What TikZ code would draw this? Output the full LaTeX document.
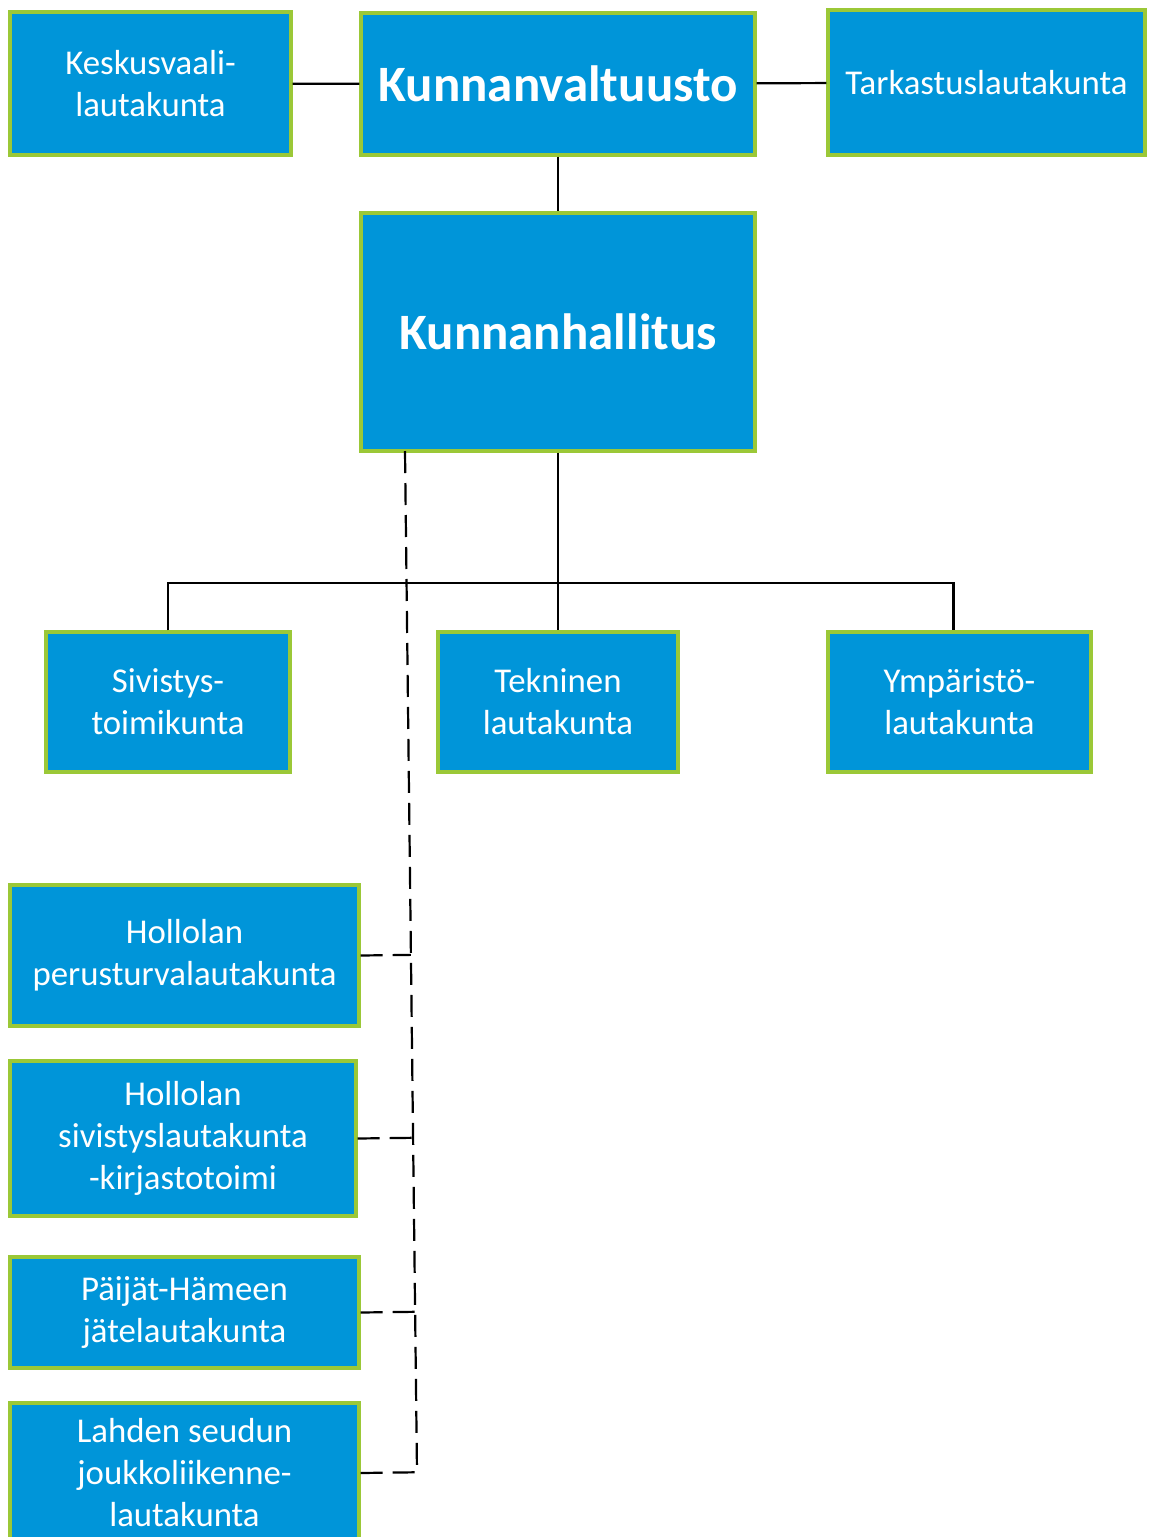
\documentclass[tikz,border=0pt]{standalone}
\usepackage{fontspec}
\setmainfont{Carlito}
\usepackage{xcolor}
\usetikzlibrary{calc}

\definecolor{boxblue}{RGB}{0,149,217}
\definecolor{boxgreen}{RGB}{155,200,55}

\begin{document}
\begin{tikzpicture}[
    x=0.5pt, y=-0.5pt,
    unit/.style={rectangle, draw=boxgreen, line width=1.6pt, fill=boxblue, text=white, align=center, inner sep=0pt, font=\fontsize{17.4}{21}\selectfont},
    council/.style={unit, font=\fontsize{25.5}{30}\selectfont\bfseries},
    boxsize/.style 2 args={minimum width=#1*0.5pt, minimum height=#2*0.5pt},
    link/.style={line width=1.1pt},
    dashlink/.style={line width=1.1pt, dash pattern=on 11pt off 5pt}
]
\useasboundingbox (0,0) rectangle (1152,1537);
\clip (0,0) rectangle (1152,1537);

% Top level: council and its committees
\node[council, boxsize={394}{142}] (kv) at (558,84) {Kunnanvaltuusto};
\node[unit, boxsize={281}{143}] (kvl) at (150.5,83.5) {Keskusvaali-\\lautakunta};
\node[unit, boxsize={317}{145}] (tlk) at (986.5,82.5) {Tarkastuslautakunta};

% Board
\node[council, boxsize={394}{238}] (kh) at (558,332) {Kunnanhallitus};

% Committees under the board
\node[unit, boxsize={244}{140}] (siv) at (168,702) {Sivistys-\\toimikunta};
\node[unit, boxsize={240}{140}] (tek) at (558,702) {Tekninen\\lautakunta};
\node[unit, boxsize={263}{140}] (ymp) at (959.5,702) {Ympäristö-\\lautakunta};

% Joint committees
\node[unit, boxsize={349}{141}] (hper) at (184.5,955.5) {Hollolan\\perusturvalautakunta};
\node[unit, boxsize={346}{155}] (hsiv) at (183,1138.5) {Hollolan\\sivistyslautakunta\\-kirjastotoimi};
\node[unit, boxsize={349}{111}] (pjl) at (184.5,1312.5) {Päijät-Hämeen\\jätelautakunta};
\node[unit, boxsize={349}{140}] (ljl) at (184.5,1473) {Lahden seudun\\joukkoliikenne-\\lautakunta};

% Solid links
\draw[link] (kvl) -- (kv);
\draw[link] (kv) -- (tlk);
\draw[link] (kv) -- (kh);
\draw[link] (kh) -- (tek);
\coordinate (bus) at (558,583);
\draw[link] (siv.north) -- (siv.north |- bus) -- ([xshift=-3pt]ymp.north |- bus) -- ([xshift=-3pt]ymp.north);

% Dashed links
\coordinate (dtop) at (405,451);
\coordinate (dbot) at (417,1472);
\draw[dashlink] (dtop) -- (dbot);
\foreach \n in {hper,hsiv,pjl,ljl}
    \draw[dashlink] (\n.east) -- ($(dtop)!(\n.east)!(dbot)$);

\end{tikzpicture}
\end{document}
